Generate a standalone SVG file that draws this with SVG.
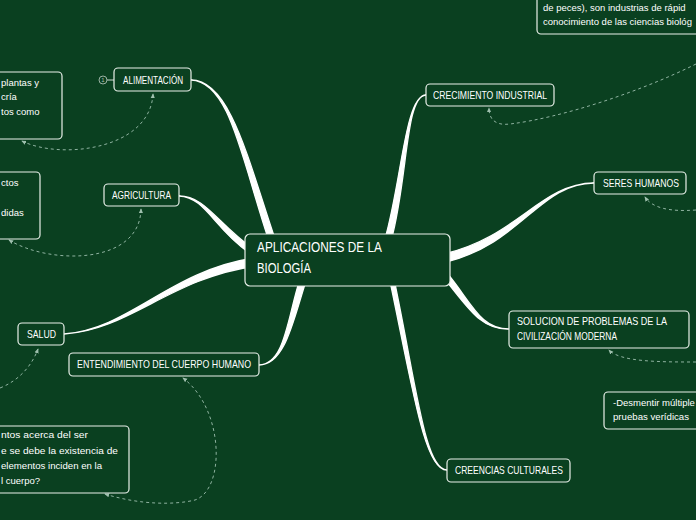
<svg xmlns="http://www.w3.org/2000/svg" width="696" height="520" viewBox="0 0 696 520">
<defs>
<style>
.bg{fill:#0a4020}
.box{fill:#0a4020;stroke:#e9f0ea;stroke-width:1.2}
.lbl{font-family:"Liberation Sans","DejaVu Sans",sans-serif;font-size:10.5px;fill:#ffffff}
.main{font-family:"Liberation Sans","DejaVu Sans",sans-serif;font-size:14px;fill:#ffffff}
.body{font-family:"Liberation Sans","DejaVu Sans",sans-serif;font-size:9.5px;fill:#ffffff}
.br{fill:#ffffff;stroke:#ffffff;stroke-width:1.3;stroke-linejoin:round}
.rel{fill:none;stroke:#8fb3a0;stroke-width:1;stroke-dasharray:3 3}
</style>
<marker id="ar" viewBox="0 0 6 6" refX="5" refY="3" markerWidth="5" markerHeight="5" orient="auto-start-reverse">
<path d="M0,0.5 L6,3 L0,5.5 z" fill="#9fc0ae"/>
</marker>
</defs>
<rect class="bg" x="0" y="0" width="696" height="520"/>

<g id="connectors">
<path class="br" d="M191,80 C230,80 248,159 275,239 L269,241 C242,161 230,81 191,80 Z"/>
<path class="br" d="M179,196 C205,196 217,223 252,248 L248,252 C213,227 205,197 179,196 Z"/>
<path class="br" d="M64,334 C130,330 170,278 256,266 L254,258 C169,271 130,329 64,334 Z"/>
<path class="br" d="M259,365 C285,365 293,321 306,281 L300,279 C287,319 285,364 259,365 Z"/>
<path class="br" d="M426,95 C405,95 408,181 391,241 L385,239 C402,179 405,96 426,95 Z"/>
<path class="br" d="M594,183 C540,183 521,244 446,262 L444,254 C519,236 540,184 594,183 Z"/>
<path class="br" d="M509,329 C480,329 472,303 447,273 L443,277 C468,307 480,330 509,329 Z"/>
<path class="br" d="M447,470 C425,470 417,389 394,279 L390,281 C413,391 425,471 447,470 Z"/>
<line x1="107" y1="80" x2="114" y2="80" stroke="#c9d6cd" stroke-width="1"/>
<path class="rel" d="M22,141 C60,160 150,150 153,94" marker-start="url(#ar)" marker-end="url(#ar)"/>
<path class="rel" d="M9,240 C50,265 140,265 141,209" marker-start="url(#ar)" marker-end="url(#ar)"/>
<path class="rel" d="M0,388 C20,380 32,365 38,349" marker-end="url(#ar)"/>
<path class="rel" d="M105,494 C140,505 175,505 195,500 C225,490 225,410 183,378" marker-start="url(#ar)" marker-end="url(#ar)"/>
<path class="rel" d="M696,64 C640,92 560,118 510,124 C494,126 489,118 489,108" marker-end="url(#ar)"/>
<path class="rel" d="M696,210 C670,212 652,208 645,197" marker-end="url(#ar)"/>
<path class="rel" d="M696,362 C660,362 620,362 609,350" marker-end="url(#ar)"/>
</g>

<g id="central">
<rect class="box" x="245" y="234" width="205" height="52" rx="5"/>
<text class="main" x="257" y="252" textLength="125" lengthAdjust="spacingAndGlyphs">APLICACIONES DE LA</text>
<text class="main" x="257" y="273" textLength="54" lengthAdjust="spacingAndGlyphs">BIOLOGÍA</text>
</g>

<g id="alimentacion">
<circle cx="103" cy="80" r="4" fill="none" stroke="#a9bdb0" stroke-width="0.9"/>
<text x="103" y="82.2" text-anchor="middle" font-family="Liberation Sans, sans-serif" font-size="6" fill="#a9bdb0">1</text>
<rect class="box" x="114" y="68" width="77" height="23" rx="4"/>
<text class="lbl" x="123" y="84" textLength="60" lengthAdjust="spacingAndGlyphs">ALIMENTACIÓN</text>
</g>

<g id="agricultura">
<rect class="box" x="104" y="184" width="75" height="22" rx="4"/>
<text class="lbl" x="112" y="199" textLength="59" lengthAdjust="spacingAndGlyphs">AGRICULTURA</text>
</g>

<g id="salud">
<rect class="box" x="18" y="323" width="46" height="22" rx="4"/>
<text class="lbl" x="27" y="338" textLength="29" lengthAdjust="spacingAndGlyphs">SALUD</text>
</g>

<g id="entendimiento">
<rect class="box" x="69" y="353" width="190" height="23" rx="4"/>
<text class="lbl" x="77" y="368" textLength="174" lengthAdjust="spacingAndGlyphs">ENTENDIMIENTO DEL CUERPO HUMANO</text>
</g>

<g id="crecimiento">
<rect class="box" x="426" y="84" width="128" height="22" rx="4"/>
<text class="lbl" x="433" y="99" textLength="114" lengthAdjust="spacingAndGlyphs">CRECIMIENTO INDUSTRIAL</text>
</g>

<g id="seres">
<rect class="box" x="594" y="172" width="92" height="22" rx="4"/>
<text class="lbl" x="603" y="187" textLength="76" lengthAdjust="spacingAndGlyphs">SERES HUMANOS</text>
</g>

<g id="solucion">
<rect class="box" x="509" y="311" width="180" height="37" rx="4"/>
<text class="lbl" x="517" y="325" textLength="150" lengthAdjust="spacingAndGlyphs">SOLUCION DE PROBLEMAS DE LA</text>
<text class="lbl" x="517" y="340" textLength="100" lengthAdjust="spacingAndGlyphs">CIVILIZACIÓN MODERNA</text>
</g>

<g id="creencias">
<rect class="box" x="447" y="459" width="123" height="23" rx="4"/>
<text class="lbl" x="455" y="474" textLength="108" lengthAdjust="spacingAndGlyphs">CREENCIAS CULTURALES</text>
</g>

<g id="note-alimentacion">
<rect class="box" x="-10" y="72" width="72" height="67" rx="4"/>
<text class="body" x="1" y="86">plantas y</text>
<text class="body" x="1" y="100">cría</text>
<text class="body" x="1" y="115">tos como</text>
</g>

<g id="note-agricultura">
<rect class="box" x="-10" y="172" width="50" height="67" rx="4"/>
<text class="body" x="1" y="186">ctos</text>
<text class="body" x="1" y="216">didas</text>
</g>

<g id="note-entendimiento">
<rect class="box" x="-10" y="426" width="139" height="67" rx="4"/>
<text class="body" x="1" y="438" textLength="87" lengthAdjust="spacingAndGlyphs">ntos acerca del ser</text>
<text class="body" x="1" y="454" textLength="117" lengthAdjust="spacingAndGlyphs">e se debe la existencia de</text>
<text class="body" x="1" y="469" textLength="101" lengthAdjust="spacingAndGlyphs">elementos inciden en la</text>
<text class="body" x="1" y="484">l cuerpo?</text>
</g>

<g id="note-crecimiento">
<rect class="box" x="537" y="-10" width="170" height="44" rx="4"/>
<text class="body" x="543" y="11">de peces), son industrias de rápid</text>
<text class="body" x="543" y="25">conocimiento de las ciencias biológ</text>
</g>

<g id="note-creencias">
<rect class="box" x="604" y="392" width="100" height="37" rx="4"/>
<text class="body" x="613" y="406">-Desmentir múltiple</text>
<text class="body" x="613" y="420" textLength="76" lengthAdjust="spacingAndGlyphs">pruebas verídicas</text>
</g>
</svg>
